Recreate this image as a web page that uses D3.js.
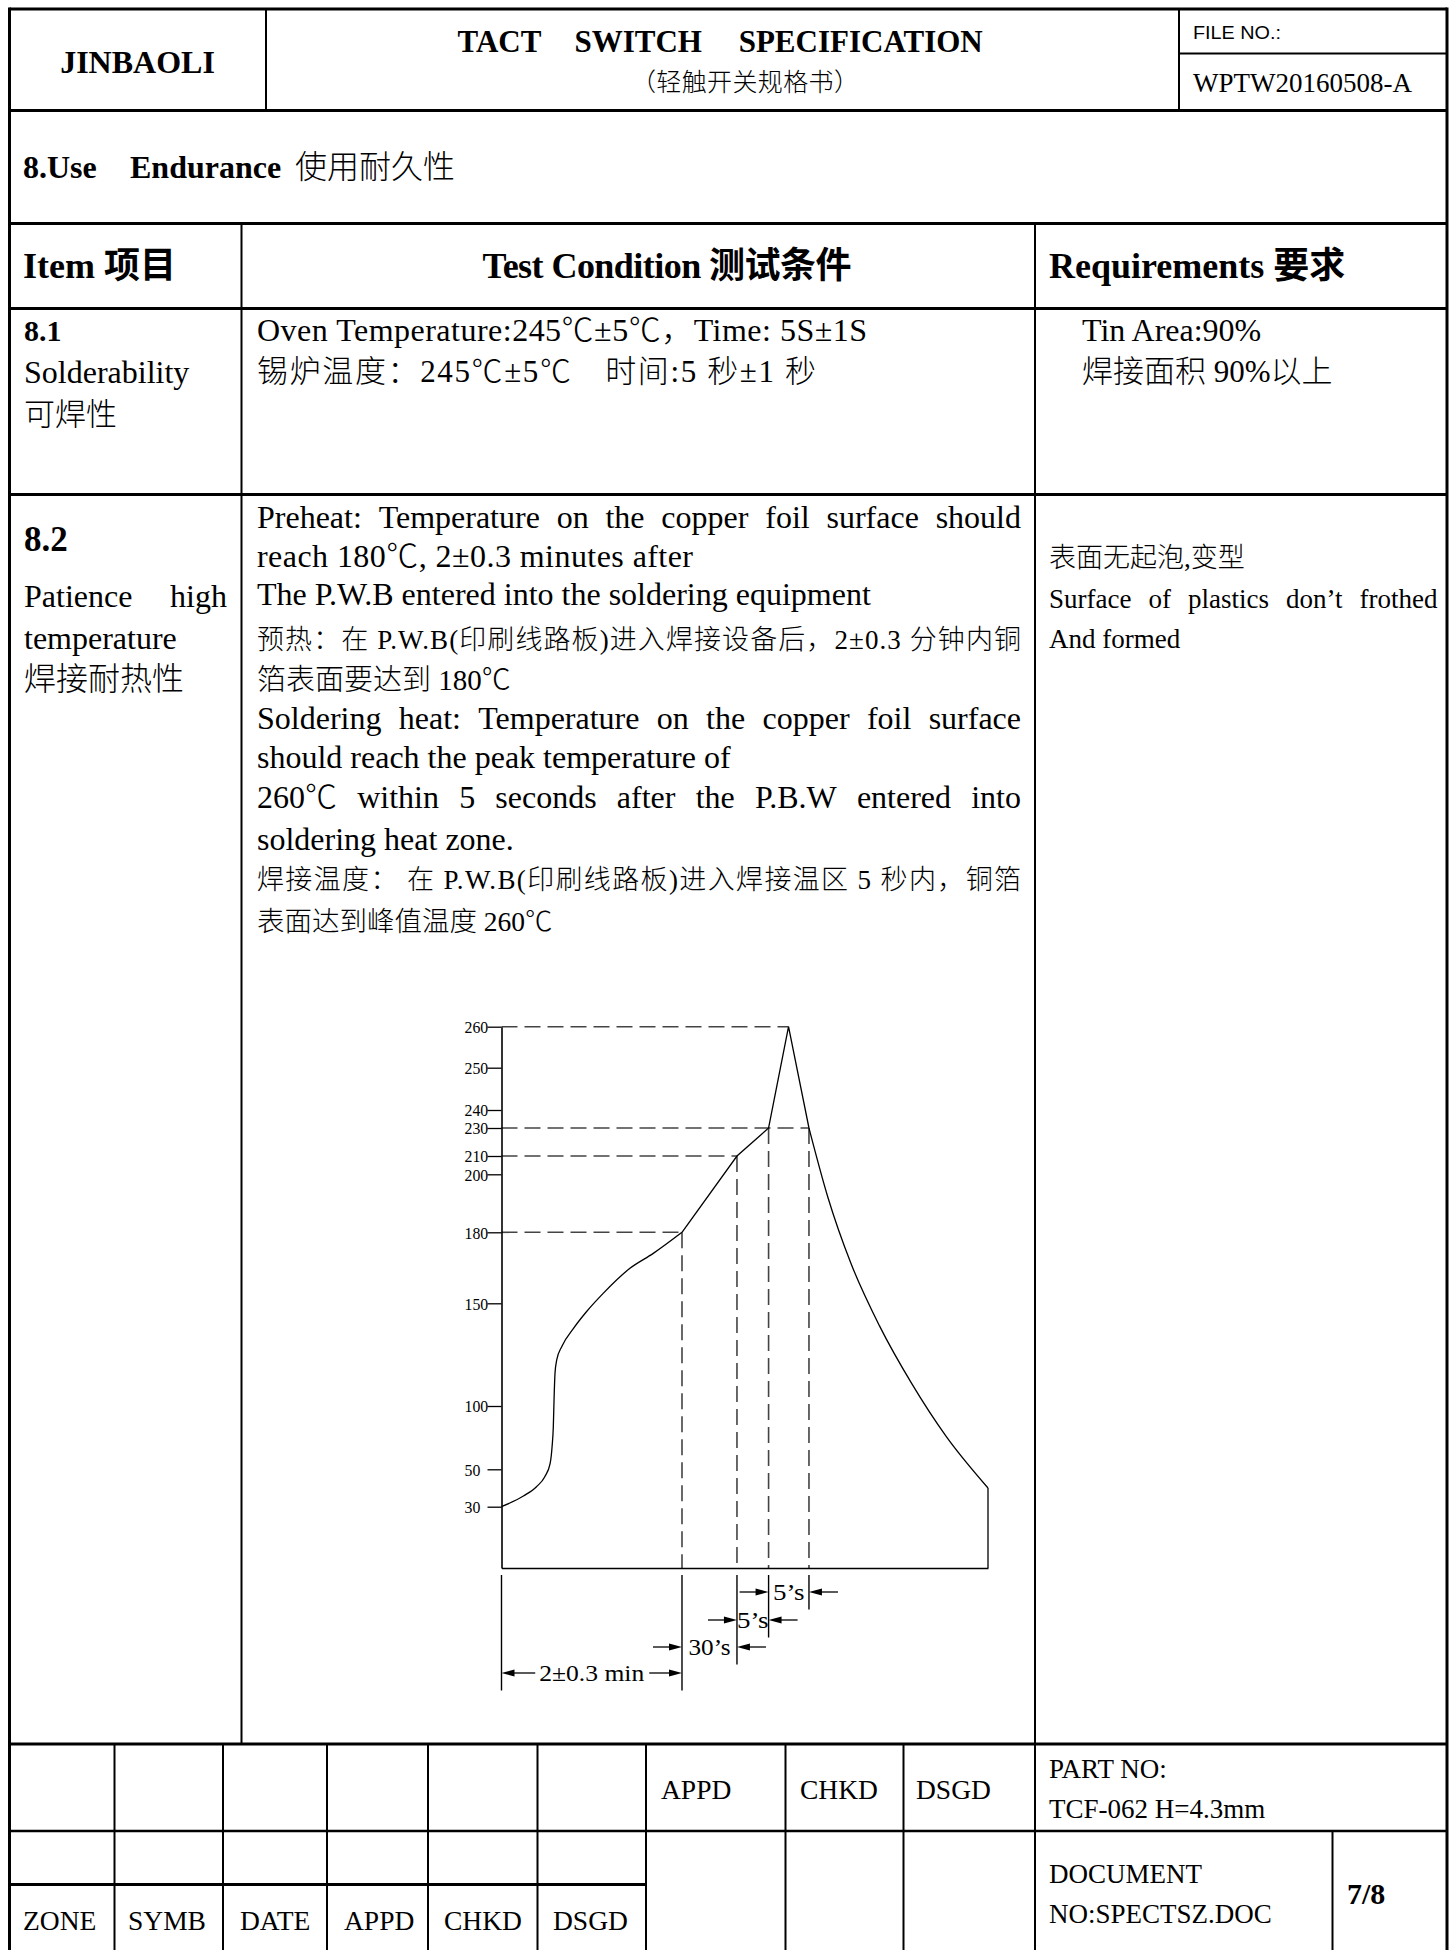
<!DOCTYPE html>
<html>
<head>
<meta charset="utf-8">
<script src="https://cdn.jsdelivr.net/npm/d3@7"></script>
<style>
html,body{margin:0;padding:0;background:#fff;}
svg{display:block;}
text{font-family:"Liberation Serif","Noto Sans CJK SC",serif;fill:#000;white-space:pre;font-weight:300;}
</style>
</head>
<body>
<svg id="page" width="1455" height="1950"></svg>
<script>
// ---- chart data ----
const tempTicks   = [30, 50, 100, 150, 180, 200, 210, 230, 240, 250, 260];
// time is in arbitrary schematic units (0 = start of preheat, 100 = end of plot)
const profileTime = [0, 4.5, 7.2, 8.9, 10.0, 10.4, 10.65, 10.8, 11.0, 11.35, 12.4, 14.8, 17.5,
                     20.9, 26.4, 31.2, 37.1, 48.4, 54.9, 59.0, 63.2, 67.1, 71.8, 77.7, 84.3, 91.4, 100];
const profileTemp = [30, 35.7, 40.7, 46, 54.7, 68, 83.6, 103, 116, 122.4, 129, 137.8, 146,
                     154.2, 164.8, 171.1, 180, 210, 230, 260, 230, 192, 167, 139, 111, 76, 40];
const levelTemps  = [180, 210, 230, 260];      // dashed horizontal guides
const levelReach  = [37.1, 48.4, 63.2, 59.0];  // time where each guide stops
const stageEdges  = [0, 37.1, 48.4, 54.9, 63.2];
const stageLabels = ["2±0.3 min", "30’s", "5’s", "5’s"];

const svg = d3.select("#page");

function line(x1, y1, x2, y2, w){
  svg.append("line").attr("x1",x1).attr("y1",y1).attr("x2",x2).attr("y2",y2)
    .attr("stroke","#000").attr("stroke-width",w);
}
function put(txt, x, y, size, o={}){
  const t = svg.append("text").attr("x",x).attr("y",y).attr("font-size",size).text(txt);
  if(o.bold) t.style("font-weight","bold");
  if(o.anchor) t.attr("text-anchor",o.anchor);
  if(o.family) t.style("font-family",o.family);
  if(o.fit) t.attr("textLength",o.fit).attr("lengthAdjust",o.squeeze ? "spacingAndGlyphs" : "spacing");
  return t;
}
// spread words between x0 and x1 like a justified paragraph line
function justify(words, x0, x1, y, size){
  const parts = words.map(w=>put(w, 0, y, size));
  const widths = parts.map(p=>p.node().getComputedTextLength());
  const gap = (x1 - x0 - d3.sum(widths)) / (words.length - 1);
  let x = x0;
  parts.forEach((p,i)=>{ p.attr("x", x); x += widths[i] + gap; });
}

/** -------- table frame -------- */
const L = 9.5, R = 1447, T = 9, B = 1950;
line(L, T, R, T, 3);
line(L, T-1.5, L, B, 3);
line(R, T-1.5, R, B, 3);
line(266, T, 266, 110.5, 2);
line(1179, T, 1179, 110.5, 2);
line(1179, 53.5, R, 53.5, 2);
[110.5, 223.5, 308.5, 494.5, 1744].forEach(y=>line(L, y, R, y, 3));
line(241.5, 223.5, 241.5, 1744, 2);
line(1035, 223.5, 1035, B, 2);
line(L, 1831, R, 1831, 2.5);
line(L, 1884.5, 646, 1884.5, 3);
[114.5, 223, 327, 428, 537.5, 646, 785.5, 903.5].forEach(x=>line(x, 1744, x, B, 2));
line(1332.5, 1831, 1332.5, B, 2);

/** -------- header -------- */
put("JINBAOLI", 137.5, 73, 32, {bold:true, anchor:"middle"});
put("TACT", 457.6, 52, 31, {bold:true});
put("SWITCH", 574.5, 52, 31, {bold:true});
put("SPECIFICATION", 738.7, 52, 31, {bold:true});
put("（轻触开关规格书）", 745, 91, 25, {anchor:"middle", fit:228});
put("FILE NO.:", 1193, 39, 18.5, {family:"'Liberation Sans',Arial,sans-serif", fit:88, squeeze:true});
put("WPTW20160508-A", 1193, 92, 27);

put("8.Use", 23, 178, 32, {bold:true});
put("Endurance", 130, 178, 32, {bold:true});
put("使用耐久性", 295, 178, 32);

put("Item 项目", 23, 278, 36, {bold:true});
put("Test Condition 测试条件", 482.5, 278, 36, {bold:true, fit:369});
put("Requirements 要求", 1049, 278, 36, {bold:true});

/** -------- 8.1 -------- */
put("8.1", 24, 341, 30, {bold:true});
put("Solderability", 24, 383, 32);
put("可焊性", 24, 425, 31);
put("Oven Temperature:245℃±5℃，Time: 5S±1S", 257, 341, 32, {fit:610});
put("锡炉温度：245℃±5℃　时间:5 秒±1 秒", 257, 382, 31, {fit:559});
put("Tin Area:90%", 1082, 341, 32);
put("焊接面积 90%以上", 1082, 382, 31);

/** -------- 8.2 -------- */
put("8.2", 24, 551, 35, {bold:true});
justify(["Patience","high"], 24, 227, 607, 32);
put("temperature", 24, 649, 32);
put("焊接耐热性", 24, 690, 32);

const cx0 = 257, cx1 = 1021;
justify("Preheat: Temperature on the copper foil surface should".split(" "), cx0, cx1, 528, 32);
put("reach 180℃, 2±0.3 minutes after", cx0, 567, 32, {fit:436});
put("The P.W.B entered into the soldering equipment", cx0, 605, 32);
put("预热：在 P.W.B(印刷线路板)进入焊接设备后，2±0.3 分钟内铜", cx0, 649, 27, {fit:cx1-cx0});
put("箔表面要达到 180℃", cx0, 690, 29);
justify("Soldering heat: Temperature on the copper foil surface".split(" "), cx0, cx1, 729, 32);
put("should reach the peak temperature of", cx0, 768, 32);
justify("260℃ within 5 seconds after the P.B.W entered into".split(" "), cx0, cx1, 808, 32);
put("soldering heat zone.", cx0, 850, 32);
put("焊接温度： 在 P.W.B(印刷线路板)进入焊接温区 5 秒内，铜箔", cx0, 889, 27, {fit:cx1-cx0});
put("表面达到峰值温度 260℃", cx0, 931, 27.5);

put("表面无起泡,变型", 1049, 567, 27);
justify("Surface of plastics don’t frothed".split(" "), 1049, 1437.5, 608, 27);
put("And formed", 1049, 648, 27);

/** -------- footer -------- */
put("APPD", 661, 1799, 27.5);
put("CHKD", 800, 1799, 27.5);
put("DSGD", 916, 1799, 27.5);
put("PART NO:", 1049, 1778, 27);
put("TCF-062 H=4.3mm", 1049, 1818, 27);
put("DOCUMENT", 1049, 1883, 27);
put("NO:SPECTSZ.DOC", 1049, 1923, 27);
put("7/8", 1347, 1904, 30, {bold:true});
[["ZONE",23],["SYMB",128],["DATE",240],["APPD",344],["CHKD",444],["DSGD",553]]
  .forEach(d=>put(d[0], d[1], 1930, 27.5));

/** -------- reflow profile chart -------- */
const x = d3.scaleLinear().domain([0, 100]).range([501.5, 988]);
// schematic (non-uniform) temperature axis: each tick sits at its own height
const y = d3.scaleLinear().domain([0, ...tempTicks])
  .range([1568, 1506.7, 1469.3, 1406, 1303.3, 1232.3, 1174.3, 1156, 1128, 1110, 1067.7, 1026.7]);

const chart = svg.append("g");
const pts = profileTime.map((t,i)=>({t, v:profileTemp[i]}));
const tempAt = t => pts.find(p=>p.t===t).v;
const dash = {stroke:"#444", w:1.6, da:"16,7"};

// dashed guides
levelTemps.forEach((v,i)=>{
  chart.append("line").attr("x1",x(0)).attr("x2",x(levelReach[i]))
    .attr("y1",y(v)).attr("y2",y(v))
    .attr("stroke",dash.stroke).attr("stroke-width",dash.w).attr("stroke-dasharray",dash.da);
});
stageEdges.slice(1).forEach(t=>{
  chart.append("line").attr("x1",x(t)).attr("x2",x(t))
    .attr("y1",y(tempAt(t))).attr("y2",y(0))
    .attr("stroke",dash.stroke).attr("stroke-width",dash.w).attr("stroke-dasharray",dash.da);
});

// axes
const yAxis = chart.append("g").attr("transform",`translate(${x(0)},0)`)
  .call(d3.axisLeft(y).tickValues(tempTicks).tickSize(14).tickSizeOuter(0).tickFormat(d3.format("d")));
yAxis.select(".domain").attr("stroke","#000").attr("stroke-width",1.6);
yAxis.selectAll(".tick line").attr("stroke","#000").attr("stroke-width",1.3);
yAxis.selectAll(".tick text")
  .attr("x",-37).attr("text-anchor","start").attr("dy","0.34em")
  .attr("font-size",17.5).attr("fill","#222")
  .style("font-family","'Liberation Serif',serif")
  .attr("textLength",d=>String(d).length*7.9).attr("lengthAdjust","spacingAndGlyphs");

const xAxis = chart.append("g").attr("transform",`translate(0,${y(0)})`)
  .call(d3.axisBottom(x).tickValues([]).tickSizeOuter(0));
xAxis.select(".domain").attr("stroke","#000").attr("stroke-width",1.6);
chart.append("line").attr("x1",x(100)).attr("x2",x(100))
  .attr("y1",y(profileTemp[profileTemp.length-1])).attr("y2",y(0))
  .attr("stroke","#000").attr("stroke-width",1.3);

// profile curve: smooth preheat, straight ramp to peak, smooth cool-down
const tA = stageEdges[1], tB = stageEdges[4];
const segs = [
  {d: pts.filter(p=>p.t<=tA), c: d3.curveMonotoneX},
  {d: pts.filter(p=>p.t>=tA && p.t<=tB), c: d3.curveLinear},
  {d: pts.filter(p=>p.t>=tB), c: d3.curveMonotoneX},
];
segs.forEach(s=>{
  chart.append("path")
    .attr("d", d3.line().x(p=>x(p.t)).y(p=>y(p.v)).curve(s.c)(s.d))
    .attr("fill","none").attr("stroke","#000").attr("stroke-width",1.3);
});

// stage dimensions below the axis
const dimY = [1673, 1647, 1620, 1592];
const dimFont = 24, halfW = 10.5;
const halfWidths = s => Array.from(s).reduce((a,ch)=>a + (ch==="±" ? 2 : 1), 0);
function arrow(xTail, xHead, yy){
  const dir = Math.sign(xHead - xTail);
  chart.append("line").attr("x1",xTail).attr("x2",xHead - dir*8).attr("y1",yy).attr("y2",yy)
    .attr("stroke","#000").attr("stroke-width",1.3);
  chart.append("path")
    .attr("d",`M${xHead},${yy}L${xHead-dir*13},${yy-3.6}L${xHead-dir*13},${yy+3.6}Z`)
    .attr("fill","#000");
}
stageEdges.forEach((t,e)=>{
  const lowRow = Math.max(0, e-1);
  chart.append("line").attr("x1",x(t)).attr("x2",x(t))
    .attr("y1",y(0)+7).attr("y2",dimY[lowRow]+17.5)
    .attr("stroke","#000").attr("stroke-width",1.4);
});
stageLabels.forEach((lab,i)=>{
  const xl = x(stageEdges[i]), xr = x(stageEdges[i+1]);
  const w = halfWidths(lab)*halfW;
  const cx = (xl+xr)/2, yy = dimY[i];
  chart.append("text").attr("x",cx - w/2).attr("y",yy+8)
    .attr("font-size",dimFont).attr("textLength",w).attr("lengthAdjust","spacingAndGlyphs")
    .text(lab);
  if(i===0){
    arrow(cx - w/2 - 4, xl, yy);
    arrow(cx + w/2 + 5, xr, yy);
  } else {
    arrow(xl - 29, xl, yy);
    arrow(xr + 29, xr, yy);
  }
});
</script>
</body>
</html>
